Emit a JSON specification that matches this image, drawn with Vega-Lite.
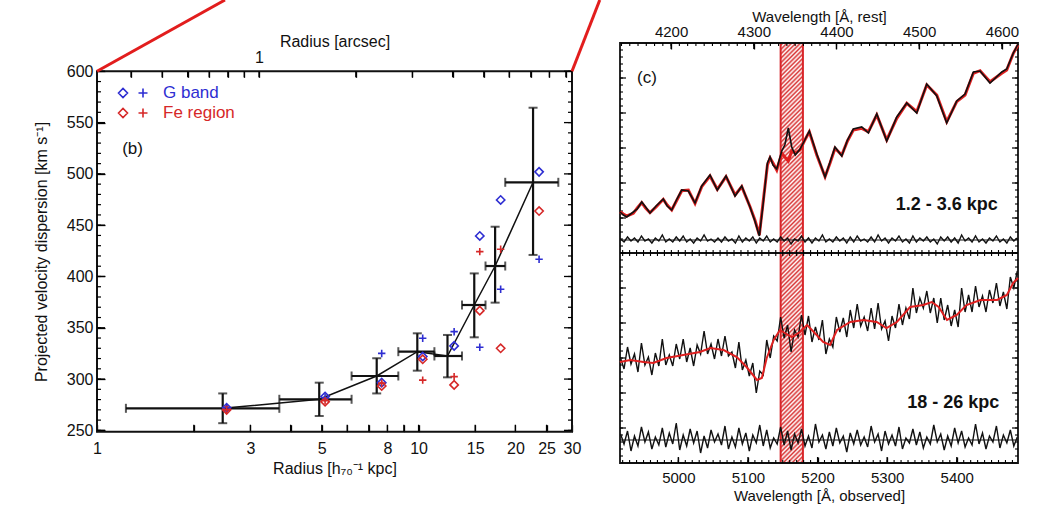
{
"$schema": "https://vega.github.io/schema/vega-lite/v6.json",
"width": 1050, "height": 507,
"autosize": {"type": "none"},
"padding": 0,
"background": "white",
"config": {
  "font": "Liberation Sans",
  "view": {"stroke": null},
  "axis": {"labelFont": "Liberation Sans", "titleFont": "Liberation Sans", "labelFontSize": 15, "titleFontSize": 16, "titleFontWeight": "normal", "domain": false, "grid": false, "ticks": true, "tickOpacity": 1, "tickColor": "#000", "labelColor": "#111", "titleColor": "#111", "tickWidth": 1.3, "labelOverlap": false, "labelFlush": false},
  "legend": {"labelFont": "Liberation Sans"}
},
"datasets": {
  "bins": [
    {"r":2.46,"v":271.5,"rlo":1.23,"rhi":3.69,"vlo":257,"vhi":286},
    {"r":4.91,"v":280.3,"rlo":3.69,"rhi":6.19,"vlo":264,"vhi":296.5},
    {"r":7.41,"v":303,"rlo":6.19,"rhi":8.65,"vlo":286,"vhi":320.3},
    {"r":9.91,"v":326.7,"rlo":8.65,"rhi":11.2,"vlo":308.2,"vhi":344.6},
    {"r":12.3,"v":322.5,"rlo":11.2,"rhi":13.65,"vlo":301.7,"vhi":343},
    {"r":14.9,"v":372.2,"rlo":13.65,"rhi":16.15,"vlo":340.7,"vhi":403},
    {"r":17.3,"v":410.2,"rlo":16.15,"rhi":18.6,"vlo":374.5,"vhi":448.5},
    {"r":22.7,"v":491.8,"rlo":18.6,"rhi":27.2,"vlo":421,"vhi":564.5}
  ],
  "sym": [
    {"r":2.53,"v":272,"band":"G band","kind":"d"},
    {"r":5.12,"v":283,"band":"G band","kind":"d"},
    {"r":7.68,"v":296.5,"band":"G band","kind":"d"},
    {"r":10.3,"v":322,"band":"G band","kind":"d"},
    {"r":12.9,"v":332.3,"band":"G band","kind":"d"},
    {"r":15.5,"v":439.5,"band":"G band","kind":"d"},
    {"r":18.0,"v":474.6,"band":"G band","kind":"d"},
    {"r":23.7,"v":502,"band":"G band","kind":"d"},
    {"r":2.53,"v":270,"band":"Fe region","kind":"d"},
    {"r":5.12,"v":278,"band":"Fe region","kind":"d"},
    {"r":7.68,"v":293.3,"band":"Fe region","kind":"d"},
    {"r":10.3,"v":319.3,"band":"Fe region","kind":"d"},
    {"r":12.9,"v":294.3,"band":"Fe region","kind":"d"},
    {"r":15.5,"v":366.7,"band":"Fe region","kind":"d"},
    {"r":18.0,"v":330,"band":"Fe region","kind":"d"},
    {"r":23.7,"v":463.8,"band":"Fe region","kind":"d"},
    {"r":2.53,"v":272,"band":"G band","kind":"p"},
    {"r":5.12,"v":282,"band":"G band","kind":"p"},
    {"r":7.68,"v":325,"band":"G band","kind":"p"},
    {"r":10.3,"v":339.8,"band":"G band","kind":"p"},
    {"r":12.9,"v":346.2,"band":"G band","kind":"p"},
    {"r":15.5,"v":331,"band":"G band","kind":"p"},
    {"r":18.0,"v":387.5,"band":"G band","kind":"p"},
    {"r":23.7,"v":416.8,"band":"G band","kind":"p"},
    {"r":2.53,"v":270,"band":"Fe region","kind":"p"},
    {"r":5.12,"v":279,"band":"Fe region","kind":"p"},
    {"r":7.68,"v":296,"band":"Fe region","kind":"p"},
    {"r":10.3,"v":299,"band":"Fe region","kind":"p"},
    {"r":12.9,"v":302.4,"band":"Fe region","kind":"p"},
    {"r":15.5,"v":424.2,"band":"Fe region","kind":"p"},
    {"r":18.0,"v":426.5,"band":"Fe region","kind":"p"}
  ],
  "zoom": [
    {"r":1,"v":600,"g":"a"},{"r":2.5,"v":669.5,"g":"a"},
    {"r":30,"v":600,"g":"b"},{"r":36.6,"v":669.5,"g":"b"}
  ],
  "ly": [{"v":250},{"v":260},{"v":270},{"v":280},{"v":290},{"v":300},{"v":310},{"v":320},{"v":330},{"v":340},{"v":350},{"v":360},{"v":370},{"v":380},{"v":390},{"v":400},{"v":410},{"v":420},{"v":430},{"v":440},{"v":450},{"v":460},{"v":470},{"v":480},{"v":490},{"v":500},{"v":510},{"v":520},{"v":530},{"v":540},{"v":550},{"v":560},{"v":570},{"v":580},{"v":590},{"v":600}],
  "lx": [{"r":2},{"r":3},{"r":4},{"r":5},{"r":6},{"r":7},{"r":8},{"r":9},{"r":10},{"r":15},{"r":20},{"r":25}],
  "la": [{"a":0.4},{"a":0.5},{"a":0.6},{"a":0.7},{"a":0.8},{"a":0.9},{"a":1},{"a":2},{"a":3},{"a":4},{"a":5},{"a":6},{"a":7},{"a":8},{"a":9}],
  "ry": [{"v":7},{"v":14},{"v":21},{"v":28},{"v":35},{"v":42},{"v":49},{"v":56},{"v":63},{"v":70},{"v":77},{"v":84},{"v":91},{"v":98},{"v":105},{"v":112},{"v":119},{"v":126},{"v":133},{"v":140},{"v":147},{"v":154},{"v":161},{"v":168},{"v":175},{"v":182},{"v":189},{"v":196},{"v":203},{"v":210},{"v":217},{"v":224},{"v":231},{"v":238},{"v":245},{"v":252},{"v":259},{"v":266},{"v":273},{"v":280},{"v":287},{"v":294},{"v":301},{"v":308},{"v":315},{"v":322},{"v":329},{"v":336},{"v":343},{"v":350},{"v":357},{"v":364},{"v":371},{"v":378},{"v":385},{"v":392},{"v":399},{"v":406},{"v":413}],
  "rx": [{"w":4920},{"w":4930},{"w":4940},{"w":4950},{"w":4960},{"w":4970},{"w":4980},{"w":4990},{"w":5000},{"w":5010},{"w":5020},{"w":5030},{"w":5040},{"w":5050},{"w":5060},{"w":5070},{"w":5080},{"w":5090},{"w":5100},{"w":5110},{"w":5120},{"w":5130},{"w":5140},{"w":5150},{"w":5160},{"w":5170},{"w":5180},{"w":5190},{"w":5200},{"w":5210},{"w":5220},{"w":5230},{"w":5240},{"w":5250},{"w":5260},{"w":5270},{"w":5280},{"w":5290},{"w":5300},{"w":5310},{"w":5320},{"w":5330},{"w":5340},{"w":5350},{"w":5360},{"w":5370},{"w":5380},{"w":5390},{"w":5400},{"w":5410},{"w":5420},{"w":5430},{"w":5440},{"w":5450},{"w":5460},{"w":5470},{"w":5480}],
  "rt": [{"w":4140},{"w":4150},{"w":4160},{"w":4170},{"w":4180},{"w":4190},{"w":4200},{"w":4210},{"w":4220},{"w":4230},{"w":4240},{"w":4250},{"w":4260},{"w":4270},{"w":4280},{"w":4290},{"w":4300},{"w":4310},{"w":4320},{"w":4330},{"w":4340},{"w":4350},{"w":4360},{"w":4370},{"w":4380},{"w":4390},{"w":4400},{"w":4410},{"w":4420},{"w":4430},{"w":4440},{"w":4450},{"w":4460},{"w":4470},{"w":4480},{"w":4490},{"w":4500},{"w":4510},{"w":4520},{"w":4530},{"w":4540},{"w":4550},{"w":4560},{"w":4570},{"w":4580},{"w":4590},{"w":4600},{"w":4610}],
  "top": [
    {"w":4916.2,"m":251.3,"b":251},{"w":4921,"m":249,"b":248},{"w":4925.9,"m":247,"b":246},{"w":4935.3,"m":249.7,"b":251},
    {"w":4941,"m":255,"b":254},{"w":4947.4,"m":260.3,"b":261},{"w":4953,"m":255,"b":256},{"w":4959.3,"m":250.3,"b":250},
    {"w":4968,"m":256,"b":257},{"w":4978.4,"m":263.7,"b":264},{"w":4984,"m":258,"b":257},{"w":4990.5,"m":253,"b":253},
    {"w":4998,"m":263,"b":264},{"w":5004.9,"m":272.3,"b":273},{"w":5014.4,"m":273,"b":272},{"w":5024,"m":259.7,"b":260},
    {"w":5033.6,"m":276.3,"b":277},{"w":5045.5,"m":287,"b":288},{"w":5056,"m":273.7,"b":273},{"w":5068.5,"m":286.3,"b":287},
    {"w":5081.5,"m":268,"b":267},{"w":5091.1,"m":276.3,"b":277},{"w":5103,"m":256.3,"b":256},{"w":5110,"m":243,"b":242},
    {"w":5116.4,"m":228,"b":227},{"w":5122,"m":262,"b":260},{"w":5128,"m":298,"b":300},{"w":5131.8,"m":305,"b":306},
    {"w":5136,"m":300,"b":298},{"w":5141.4,"m":293,"b":294},{"w":5148.6,"m":309.7,"b":312},{"w":5153,"m":306,"b":318},
    {"w":5158,"m":302,"b":335},{"w":5162.9,"m":312,"b":316},{"w":5168,"m":310,"b":308},{"w":5174.9,"m":313,"b":314},
    {"w":5181,"m":322,"b":322},{"w":5188.2,"m":331.3,"b":332},{"w":5198.9,"m":308,"b":309},{"w":5210.8,"m":286.3,"b":286},
    {"w":5218,"m":300,"b":301},{"w":5225.1,"m":314.7,"b":316},{"w":5234.8,"m":308,"b":307},{"w":5243,"m":322,"b":323},
    {"w":5251.4,"m":333,"b":334},{"w":5263.5,"m":334.7,"b":336},{"w":5273,"m":331.3,"b":330},{"w":5285.1,"m":348,"b":349},
    {"w":5299.4,"m":323,"b":322},{"w":5313.8,"m":344.7,"b":346},{"w":5328.2,"m":359.7,"b":360},{"w":5342.5,"m":351.3,"b":350},
    {"w":5356.9,"m":378,"b":379},{"w":5371.3,"m":368,"b":367},{"w":5385.6,"m":341.3,"b":340},{"w":5400,"m":361.3,"b":362},
    {"w":5411.9,"m":368,"b":369},{"w":5423.9,"m":389.7,"b":391},{"w":5433.5,"m":392.3,"b":392},{"w":5447.8,"m":381.3,"b":380},
    {"w":5464.7,"m":389.7,"b":391},{"w":5471.8,"m":393,"b":394},{"w":5481.3,"m":409.7,"b":410},{"w":5488,"m":418,"b":419}
  ],
  "botm": [
    {"w":4916,"m":101},{"w":4931,"m":103},{"w":4950,"m":101},{"w":4964,"m":100},{"w":4983,"m":105},{"w":5007,"m":108},
    {"w":5031,"m":111},{"w":5046,"m":115},{"w":5065,"m":113},{"w":5084,"m":106},{"w":5098,"m":96},{"w":5113,"m":83},
    {"w":5120,"m":85},{"w":5127,"m":105},{"w":5137,"m":123},{"w":5146,"m":133},{"w":5153,"m":130},{"w":5163,"m":126},
    {"w":5175,"m":131},{"w":5185,"m":138},{"w":5196,"m":130},{"w":5208,"m":121},{"w":5218,"m":118},{"w":5228,"m":133},
    {"w":5247,"m":141},{"w":5266,"m":143},{"w":5285,"m":141},{"w":5299,"m":135},{"w":5314,"m":141},{"w":5333,"m":156},
    {"w":5352,"m":158},{"w":5364,"m":161},{"w":5374,"m":156},{"w":5386,"m":143},{"w":5400,"m":148},{"w":5414,"m":158},
    {"w":5434,"m":163},{"w":5458,"m":163},{"w":5472,"m":168},{"w":5481,"m":180},{"w":5488,"m":185}
  ],
  "bot": [
    {"w":4917,"b":105,"br":29,"tr":224},{"w":4922,"b":94,"br":19,"tr":221},{"w":4927,"b":116,"br":32,"tr":226},{"w":4932,"b":99,"br":12,"tr":222},{"w":4937,"b":109,"br":27,"tr":225},
    {"w":4942,"b":91,"br":17,"tr":221},{"w":4947,"b":120,"br":36,"tr":227},{"w":4952,"b":98,"br":21,"tr":222},{"w":4957,"b":106,"br":31,"tr":224},{"w":4962,"b":88,"br":14,"tr":220},
    {"w":4967,"b":110,"br":26,"tr":225},{"w":4972,"b":97,"br":18,"tr":222},{"w":4977,"b":124,"br":35,"tr":228},{"w":4982,"b":98,"br":16,"tr":221},{"w":4987,"b":108,"br":30,"tr":224},
    {"w":4992,"b":97,"br":19,"tr":221},{"w":4997,"b":119,"br":40,"tr":226},{"w":5002,"b":104,"br":13,"tr":222},{"w":5007,"b":124,"br":28,"tr":227},{"w":5012,"b":101,"br":17,"tr":221},
    {"w":5017,"b":115,"br":34,"tr":224},{"w":5022,"b":97,"br":20,"tr":220},{"w":5027,"b":118,"br":32,"tr":225},{"w":5032,"b":109,"br":10,"tr":222},{"w":5037,"b":132,"br":27,"tr":228},
    {"w":5042,"b":109,"br":15,"tr":222},{"w":5047,"b":119,"br":33,"tr":224},{"w":5052,"b":104,"br":21,"tr":221},{"w":5057,"b":124,"br":29,"tr":225},{"w":5062,"b":107,"br":18,"tr":221},
    {"w":5067,"b":127,"br":37,"tr":226},{"w":5072,"b":107,"br":14,"tr":222},{"w":5077,"b":111,"br":26,"tr":224},{"w":5082,"b":95,"br":16,"tr":220},{"w":5087,"b":121,"br":35,"tr":227},
    {"w":5092,"b":93,"br":19,"tr":221},{"w":5097,"b":103,"br":30,"tr":225},{"w":5102,"b":87,"br":12,"tr":222},{"w":5107,"b":100,"br":28,"tr":226},{"w":5112,"b":70,"br":20,"tr":220},
    {"w":5117,"b":92,"br":38,"tr":225},{"w":5122,"b":88,"br":17,"tr":222},{"w":5127,"b":123,"br":33,"tr":227},{"w":5132,"b":105,"br":15,"tr":221},{"w":5137,"b":127,"br":25,"tr":224},
    {"w":5142,"b":122,"br":19,"tr":221},{"w":5147,"b":146,"br":36,"tr":226},{"w":5152,"b":125,"br":18,"tr":222},{"w":5157,"b":138,"br":32,"tr":225},{"w":5162,"b":111,"br":13,"tr":219},
    {"w":5167,"b":133,"br":29,"tr":224},{"w":5172,"b":126,"br":20,"tr":222},{"w":5177,"b":148,"br":34,"tr":227},{"w":5182,"b":128,"br":17,"tr":221},{"w":5187,"b":147,"br":27,"tr":225},
    {"w":5192,"b":121,"br":15,"tr":220},{"w":5197,"b":136,"br":39,"tr":225},{"w":5202,"b":123,"br":21,"tr":222},{"w":5207,"b":143,"br":28,"tr":228},{"w":5212,"b":109,"br":14,"tr":221},
    {"w":5217,"b":124,"br":31,"tr":224},{"w":5222,"b":116,"br":17,"tr":221},{"w":5227,"b":146,"br":35,"tr":226},{"w":5232,"b":131,"br":20,"tr":222},{"w":5237,"b":145,"br":27,"tr":225},
    {"w":5242,"b":126,"br":11,"tr":220},{"w":5247,"b":153,"br":30,"tr":226},{"w":5252,"b":135,"br":19,"tr":221},{"w":5257,"b":159,"br":33,"tr":227},{"w":5262,"b":137,"br":18,"tr":222},
    {"w":5267,"b":146,"br":26,"tr":224},{"w":5272,"b":132,"br":16,"tr":221},{"w":5277,"b":155,"br":37,"tr":226},{"w":5282,"b":134,"br":21,"tr":221},{"w":5287,"b":160,"br":29,"tr":228},
    {"w":5292,"b":134,"br":12,"tr":222},{"w":5297,"b":142,"br":32,"tr":225},{"w":5302,"b":122,"br":19,"tr":220},{"w":5307,"b":147,"br":28,"tr":225},{"w":5312,"b":135,"br":17,"tr":222},
    {"w":5317,"b":159,"br":36,"tr":227},{"w":5322,"b":138,"br":14,"tr":221},{"w":5327,"b":155,"br":25,"tr":224},{"w":5332,"b":144,"br":20,"tr":220},{"w":5337,"b":175,"br":34,"tr":227},
    {"w":5342,"b":150,"br":18,"tr":221},{"w":5347,"b":165,"br":31,"tr":225},{"w":5352,"b":155,"br":15,"tr":222},{"w":5357,"b":172,"br":26,"tr":226},{"w":5362,"b":150,"br":19,"tr":221},
    {"w":5367,"b":165,"br":38,"tr":224},{"w":5372,"b":140,"br":21,"tr":219},{"w":5377,"b":165,"br":29,"tr":226},{"w":5382,"b":143,"br":13,"tr":222},{"w":5387,"b":158,"br":27,"tr":226},
    {"w":5392,"b":137,"br":17,"tr":221},{"w":5397,"b":153,"br":35,"tr":225},{"w":5402,"b":136,"br":20,"tr":220},{"w":5407,"b":175,"br":32,"tr":228},{"w":5412,"b":151,"br":16,"tr":222},
    {"w":5417,"b":168,"br":25,"tr":225},{"w":5422,"b":151,"br":18,"tr":221},{"w":5427,"b":177,"br":39,"tr":227},{"w":5432,"b":156,"br":19,"tr":221},{"w":5437,"b":167,"br":30,"tr":224},
    {"w":5442,"b":151,"br":14,"tr":220},{"w":5447,"b":173,"br":27,"tr":225},{"w":5452,"b":160,"br":21,"tr":222},{"w":5457,"b":180,"br":37,"tr":227},{"w":5462,"b":157,"br":15,"tr":221},
    {"w":5467,"b":171,"br":28,"tr":224},{"w":5472,"b":154,"br":20,"tr":220},{"w":5477,"b":186,"br":33,"tr":226},{"w":5482,"b":175,"br":17,"tr":222},{"w":5487,"b":192,"br":26,"tr":225}
  ]
},
"resolve": {"scale": {"x": "independent", "y": "independent", "color": "independent", "stroke": "independent"}, "axis": {"x": "independent", "y": "independent"}},
"layer": [
  {
   "data": {"name": "bins"},
   "mark": {"type": "rule", "color": "#111", "strokeWidth": 2.2},
   "encoding": {
     "x": {"field": "r", "type": "quantitative", "scale": {"type": "log", "domain": [1, 30], "range": [97, 572], "nice": false},
           "axis": {"orient": "bottom", "offset": -82.3, "values": [1,2,3,4,5,6,7,8,9,10,15,20,25,30], "labelExpr": "indexof([1,3,5,8,10,15,20,25,30], datum.value) >= 0 ? datum.label : ''", "tickSize": 7, "labelPadding": 9, "labelFontSize": 16, "title": "Radius [h₇₀⁻¹ kpc]", "titlePadding": 4, "titleFontSize": 16}},
     "y": {"field": "vlo", "type": "quantitative", "scale": {"domain": [248.7, 600], "range": [431.7, 71.3], "nice": false, "zero": false},
           "axis": {"orient": "left", "offset": -105, "values": [250,300,350,400,450,500,550,600], "tickSize": 8, "labelPadding": 4, "labelFontSize": 16, "title": "Projected velocity dispersion [km s⁻¹]", "titlePadding": 17, "titleFontSize": 16}},
     "y2": {"field": "vhi"}
   }
  },
  {
   "data": {"name": "bins"},
   "mark": {"type": "rule", "color": "#111", "strokeWidth": 2.2},
   "encoding": {
     "x": {"field": "rlo", "type": "quantitative", "scale": {"type": "log", "domain": [1, 30], "range": [97, 572], "nice": false}, "axis": null},
     "x2": {"field": "rhi"},
     "y": {"field": "v", "type": "quantitative", "scale": {"domain": [248.7, 600], "range": [431.7, 71.3], "nice": false, "zero": false}, "axis": null}
   }
  },
  {
   "data": {"name": "bins"},
   "mark": {"type": "tick", "orient": "horizontal", "color": "#111", "size": 9, "thickness": 2},
   "encoding": {
     "x": {"field": "r", "type": "quantitative", "scale": {"type": "log", "domain": [1, 30], "range": [97, 572], "nice": false}, "axis": null},
     "y": {"field": "vlo", "type": "quantitative", "scale": {"domain": [248.7, 600], "range": [431.7, 71.3], "nice": false, "zero": false}, "axis": null}
   }
  },
  {
   "data": {"name": "bins"},
   "mark": {"type": "tick", "orient": "horizontal", "color": "#111", "size": 9, "thickness": 2},
   "encoding": {
     "x": {"field": "r", "type": "quantitative", "scale": {"type": "log", "domain": [1, 30], "range": [97, 572], "nice": false}, "axis": null},
     "y": {"field": "vhi", "type": "quantitative", "scale": {"domain": [248.7, 600], "range": [431.7, 71.3], "nice": false, "zero": false}, "axis": null}
   }
  },
  {
   "data": {"name": "bins"},
   "mark": {"type": "tick", "orient": "vertical", "color": "#111", "size": 9, "thickness": 2},
   "encoding": {
     "x": {"field": "rlo", "type": "quantitative", "scale": {"type": "log", "domain": [1, 30], "range": [97, 572], "nice": false}, "axis": null},
     "y": {"field": "v", "type": "quantitative", "scale": {"domain": [248.7, 600], "range": [431.7, 71.3], "nice": false, "zero": false}, "axis": null}
   }
  },
  {
   "data": {"name": "bins"},
   "mark": {"type": "tick", "orient": "vertical", "color": "#111", "size": 9, "thickness": 2},
   "encoding": {
     "x": {"field": "rhi", "type": "quantitative", "scale": {"type": "log", "domain": [1, 30], "range": [97, 572], "nice": false}, "axis": null},
     "y": {"field": "v", "type": "quantitative", "scale": {"domain": [248.7, 600], "range": [431.7, 71.3], "nice": false, "zero": false}, "axis": null}
   }
  },
  {
   "data": {"name": "bins"},
   "mark": {"type": "line", "color": "#111", "strokeWidth": 1.5},
   "encoding": {
     "x": {"field": "r", "type": "quantitative", "scale": {"type": "log", "domain": [1, 30], "range": [97, 572], "nice": false}, "axis": null},
     "y": {"field": "v", "type": "quantitative", "scale": {"domain": [248.7, 600], "range": [431.7, 71.3], "nice": false, "zero": false}, "axis": null}
   }
  },
  {
   "data": {"name": "sym"},
   "transform": [{"filter": "datum.kind == 'd'"}],
   "mark": {"type": "point", "shape": "diamond", "filled": false, "size": 70, "strokeWidth": 1.6, "opacity": 1},
   "encoding": {
     "x": {"field": "r", "type": "quantitative", "scale": {"type": "log", "domain": [1, 30], "range": [97, 572], "nice": false}, "axis": null},
     "y": {"field": "v", "type": "quantitative", "scale": {"domain": [248.7, 600], "range": [431.7, 71.3], "nice": false, "zero": false}, "axis": null},
     "color": {"field": "band", "type": "nominal", "scale": {"domain": ["G band", "Fe region"], "range": ["#2e2ed2", "#d62828"]},
       "legend": {"orient": "none", "legendX": 122, "legendY": 82, "title": null, "padding": 0,
         "symbolType": "M -1.45 0 L -1 -0.45 L -0.55 0 L -1 0.45 Z M 0.55 0 L 1.45 0 M 1 -0.45 L 1 0.45",
         "symbolSize": 400, "symbolStrokeWidth": 1.6, "symbolFillColor": "transparent",
         "labelFontSize": 17, "labelOffset": 19, "rowPadding": 1,
         "encoding": {
           "labels": {"fill": {"value": {"expr": "datum.label == 'G band' ? '#2e2ed2' : '#d62828'"}}}
         }}}
   }
  },
  {
   "data": {"name": "sym"},
   "transform": [{"filter": "datum.kind == 'p'"}],
   "mark": {"type": "point", "shape": "M -1 0 L 1 0 M 0 -1 L 0 1", "filled": false, "size": 55, "strokeWidth": 1.6, "opacity": 1},
   "encoding": {
     "x": {"field": "r", "type": "quantitative", "scale": {"type": "log", "domain": [1, 30], "range": [97, 572], "nice": false}, "axis": null},
     "y": {"field": "v", "type": "quantitative", "scale": {"domain": [248.7, 600], "range": [431.7, 71.3], "nice": false, "zero": false}, "axis": null},
     "stroke": {"field": "band", "type": "nominal", "scale": {"domain": ["G band", "Fe region"], "range": ["#2e2ed2", "#d62828"]}, "legend": null}
   }
  },
  {
   "data": {"values": [{}]},
   "mark": {"type": "text", "text": "(b)", "fontSize": 17, "font": "Liberation Sans", "color": "#111"},
   "encoding": {
     "x": {"datum": 1.29, "type": "quantitative", "scale": {"type": "log", "domain": [1, 30], "range": [97, 572], "nice": false}, "axis": null},
     "y": {"datum": 524, "type": "quantitative", "scale": {"domain": [248.7, 600], "range": [431.7, 71.3], "nice": false, "zero": false}, "axis": null}
   }
  },
  {
   "data": {"values": [{}]},
   "mark": {"type": "rect", "filled": false, "color": "#111", "strokeWidth": 2},
   "encoding": {
     "x": {"datum": 1, "type": "quantitative", "scale": {"type": "log", "domain": [1, 30], "range": [97, 572], "nice": false}, "axis": null},
     "x2": {"datum": 30},
     "y": {"datum": 248.7, "type": "quantitative", "scale": {"domain": [248.7, 600], "range": [431.7, 71.3], "nice": false, "zero": false}, "axis": null},
     "y2": {"datum": 600}
   }
  },
  {
   "data": {"name": "ly"},
   "transform": [{"filter": "datum.v % 50 == 0"}],
   "mark": {"type": "rule", "color": "#000", "strokeWidth": 1.3},
   "encoding": {
     "x": {"datum": 1, "type": "quantitative", "scale": {"type": "log", "domain": [1, 30], "range": [97, 572], "nice": false}, "axis": null},
     "x2": {"datum": 1.059},
     "y": {"field": "v", "type": "quantitative", "scale": {"domain": [248.7, 600], "range": [431.7, 71.3], "nice": false, "zero": false}, "axis": null}
   }
  },
  {
   "data": {"name": "ly"},
   "transform": [{"filter": "datum.v % 50 == 0"}],
   "mark": {"type": "rule", "color": "#000", "strokeWidth": 1.3},
   "encoding": {
     "x": {"datum": 28.33, "type": "quantitative", "scale": {"type": "log", "domain": [1, 30], "range": [97, 572], "nice": false}, "axis": null},
     "x2": {"datum": 30},
     "y": {"field": "v", "type": "quantitative", "scale": {"domain": [248.7, 600], "range": [431.7, 71.3], "nice": false, "zero": false}, "axis": null}
   }
  },
  {
   "data": {"name": "ly"},
   "mark": {"type": "rule", "color": "#000", "strokeWidth": 1.2},
   "encoding": {
     "x": {"datum": 1, "type": "quantitative", "scale": {"type": "log", "domain": [1, 30], "range": [97, 572], "nice": false}, "axis": null},
     "x2": {"datum": 1.029},
     "y": {"field": "v", "type": "quantitative", "scale": {"domain": [248.7, 600], "range": [431.7, 71.3], "nice": false, "zero": false}, "axis": null}
   }
  },
  {
   "data": {"name": "ly"},
   "mark": {"type": "rule", "color": "#000", "strokeWidth": 1.2},
   "encoding": {
     "x": {"datum": 29.15, "type": "quantitative", "scale": {"type": "log", "domain": [1, 30], "range": [97, 572], "nice": false}, "axis": null},
     "x2": {"datum": 30},
     "y": {"field": "v", "type": "quantitative", "scale": {"domain": [248.7, 600], "range": [431.7, 71.3], "nice": false, "zero": false}, "axis": null}
   }
  },
  {
   "data": {"name": "lx"},
   "mark": {"type": "rule", "color": "#000", "strokeWidth": 1.3},
   "encoding": {
     "x": {"field": "r", "type": "quantitative", "scale": {"type": "log", "domain": [1, 30], "range": [97, 572], "nice": false}, "axis": null},
     "y": {"datum": 248.7, "type": "quantitative", "scale": {"domain": [248.7, 600], "range": [431.7, 71.3], "nice": false, "zero": false}, "axis": null},
     "y2": {"datum": 255.5}
   }
  },
  {
   "data": {"name": "la"},
   "mark": {"type": "rule", "color": "#000", "strokeWidth": 1.3},
   "encoding": {
     "x": {"field": "a", "type": "quantitative", "scale": {"type": "log", "domain": [0.3135, 9.404], "range": [97, 572], "nice": false}, "axis": null},
     "y": {"datum": 600, "type": "quantitative", "scale": {"domain": [248.7, 600], "range": [431.7, 71.3], "nice": false, "zero": false}, "axis": null},
     "y2": {"datum": 594.2}
   }
  },
  {
   "data": {"name": "zoom"},
   "mark": {"type": "line", "color": "#e21d1d", "strokeWidth": 3},
   "encoding": {
     "x": {"field": "r", "type": "quantitative", "scale": {"type": "log", "domain": [1, 30], "range": [97, 572], "nice": false}, "axis": null},
     "y": {"field": "v", "type": "quantitative", "scale": {"domain": [248.7, 600], "range": [431.7, 71.3], "nice": false, "zero": false}, "axis": null},
     "detail": {"field": "g", "type": "nominal"}
   }
  },
  {
   "data": {"values": [{"a": 1}]},
   "mark": {"type": "point", "opacity": 0},
   "encoding": {
     "x": {"field": "a", "type": "quantitative", "scale": {"type": "log", "domain": [0.3135, 9.404], "range": [97, 572], "nice": false},
           "axis": {"orient": "top", "offset": -77.3, "values": [0.4,0.5,0.6,0.7,0.8,0.9,1,2,3,4,5,6,7,8,9], "labelExpr": "datum.value == 1 ? '1' : ''", "tickSize": 6, "labelPadding": 6, "labelFontSize": 16, "title": "Radius [arcsec]", "titlePadding": 0, "titleFontSize": 16}}
   }
  },
  {
   "data": {"values": [{"w1": 5147, "w2": 5179}]},
   "mark": {"type": "rect", "stroke": "#d9262a", "strokeWidth": 2,
     "fill": {"gradient": "linear", "x1": 0, "y1": 0, "x2": 0.0557, "y2": 1.05, "stops": [
{"offset":0,"color":"#fff"},{"offset":0.005,"color":"#d83434"},{"offset":0.01,"color":"#fff"},{"offset":0.015,"color":"#d83434"},{"offset":0.02,"color":"#fff"},{"offset":0.025,"color":"#d83434"},{"offset":0.03,"color":"#fff"},{"offset":0.035,"color":"#d83434"},{"offset":0.04,"color":"#fff"},{"offset":0.045,"color":"#d83434"},
{"offset":0.05,"color":"#fff"},{"offset":0.055,"color":"#d83434"},{"offset":0.06,"color":"#fff"},{"offset":0.065,"color":"#d83434"},{"offset":0.07,"color":"#fff"},{"offset":0.075,"color":"#d83434"},{"offset":0.08,"color":"#fff"},{"offset":0.085,"color":"#d83434"},{"offset":0.09,"color":"#fff"},{"offset":0.095,"color":"#d83434"},
{"offset":0.1,"color":"#fff"},{"offset":0.105,"color":"#d83434"},{"offset":0.11,"color":"#fff"},{"offset":0.115,"color":"#d83434"},{"offset":0.12,"color":"#fff"},{"offset":0.125,"color":"#d83434"},{"offset":0.13,"color":"#fff"},{"offset":0.135,"color":"#d83434"},{"offset":0.14,"color":"#fff"},{"offset":0.145,"color":"#d83434"},
{"offset":0.15,"color":"#fff"},{"offset":0.155,"color":"#d83434"},{"offset":0.16,"color":"#fff"},{"offset":0.165,"color":"#d83434"},{"offset":0.17,"color":"#fff"},{"offset":0.175,"color":"#d83434"},{"offset":0.18,"color":"#fff"},{"offset":0.185,"color":"#d83434"},{"offset":0.19,"color":"#fff"},{"offset":0.195,"color":"#d83434"},
{"offset":0.2,"color":"#fff"},{"offset":0.205,"color":"#d83434"},{"offset":0.21,"color":"#fff"},{"offset":0.215,"color":"#d83434"},{"offset":0.22,"color":"#fff"},{"offset":0.225,"color":"#d83434"},{"offset":0.23,"color":"#fff"},{"offset":0.235,"color":"#d83434"},{"offset":0.24,"color":"#fff"},{"offset":0.245,"color":"#d83434"},
{"offset":0.25,"color":"#fff"},{"offset":0.255,"color":"#d83434"},{"offset":0.26,"color":"#fff"},{"offset":0.265,"color":"#d83434"},{"offset":0.27,"color":"#fff"},{"offset":0.275,"color":"#d83434"},{"offset":0.28,"color":"#fff"},{"offset":0.285,"color":"#d83434"},{"offset":0.29,"color":"#fff"},{"offset":0.295,"color":"#d83434"},
{"offset":0.3,"color":"#fff"},{"offset":0.305,"color":"#d83434"},{"offset":0.31,"color":"#fff"},{"offset":0.315,"color":"#d83434"},{"offset":0.32,"color":"#fff"},{"offset":0.325,"color":"#d83434"},{"offset":0.33,"color":"#fff"},{"offset":0.335,"color":"#d83434"},{"offset":0.34,"color":"#fff"},{"offset":0.345,"color":"#d83434"},
{"offset":0.35,"color":"#fff"},{"offset":0.355,"color":"#d83434"},{"offset":0.36,"color":"#fff"},{"offset":0.365,"color":"#d83434"},{"offset":0.37,"color":"#fff"},{"offset":0.375,"color":"#d83434"},{"offset":0.38,"color":"#fff"},{"offset":0.385,"color":"#d83434"},{"offset":0.39,"color":"#fff"},{"offset":0.395,"color":"#d83434"},
{"offset":0.4,"color":"#fff"},{"offset":0.405,"color":"#d83434"},{"offset":0.41,"color":"#fff"},{"offset":0.415,"color":"#d83434"},{"offset":0.42,"color":"#fff"},{"offset":0.425,"color":"#d83434"},{"offset":0.43,"color":"#fff"},{"offset":0.435,"color":"#d83434"},{"offset":0.44,"color":"#fff"},{"offset":0.445,"color":"#d83434"},
{"offset":0.45,"color":"#fff"},{"offset":0.455,"color":"#d83434"},{"offset":0.46,"color":"#fff"},{"offset":0.465,"color":"#d83434"},{"offset":0.47,"color":"#fff"},{"offset":0.475,"color":"#d83434"},{"offset":0.48,"color":"#fff"},{"offset":0.485,"color":"#d83434"},{"offset":0.49,"color":"#fff"},{"offset":0.495,"color":"#d83434"},
{"offset":0.5,"color":"#fff"},{"offset":0.505,"color":"#d83434"},{"offset":0.51,"color":"#fff"},{"offset":0.515,"color":"#d83434"},{"offset":0.52,"color":"#fff"},{"offset":0.525,"color":"#d83434"},{"offset":0.53,"color":"#fff"},{"offset":0.535,"color":"#d83434"},{"offset":0.54,"color":"#fff"},{"offset":0.545,"color":"#d83434"},
{"offset":0.55,"color":"#fff"},{"offset":0.555,"color":"#d83434"},{"offset":0.56,"color":"#fff"},{"offset":0.565,"color":"#d83434"},{"offset":0.57,"color":"#fff"},{"offset":0.575,"color":"#d83434"},{"offset":0.58,"color":"#fff"},{"offset":0.585,"color":"#d83434"},{"offset":0.59,"color":"#fff"},{"offset":0.595,"color":"#d83434"},
{"offset":0.6,"color":"#fff"},{"offset":0.605,"color":"#d83434"},{"offset":0.61,"color":"#fff"},{"offset":0.615,"color":"#d83434"},{"offset":0.62,"color":"#fff"},{"offset":0.625,"color":"#d83434"},{"offset":0.63,"color":"#fff"},{"offset":0.635,"color":"#d83434"},{"offset":0.64,"color":"#fff"},{"offset":0.645,"color":"#d83434"},
{"offset":0.65,"color":"#fff"},{"offset":0.655,"color":"#d83434"},{"offset":0.66,"color":"#fff"},{"offset":0.665,"color":"#d83434"},{"offset":0.67,"color":"#fff"},{"offset":0.675,"color":"#d83434"},{"offset":0.68,"color":"#fff"},{"offset":0.685,"color":"#d83434"},{"offset":0.69,"color":"#fff"},{"offset":0.695,"color":"#d83434"},
{"offset":0.7,"color":"#fff"},{"offset":0.705,"color":"#d83434"},{"offset":0.71,"color":"#fff"},{"offset":0.715,"color":"#d83434"},{"offset":0.72,"color":"#fff"},{"offset":0.725,"color":"#d83434"},{"offset":0.73,"color":"#fff"},{"offset":0.735,"color":"#d83434"},{"offset":0.74,"color":"#fff"},{"offset":0.745,"color":"#d83434"},
{"offset":0.75,"color":"#fff"},{"offset":0.755,"color":"#d83434"},{"offset":0.76,"color":"#fff"},{"offset":0.765,"color":"#d83434"},{"offset":0.77,"color":"#fff"},{"offset":0.775,"color":"#d83434"},{"offset":0.78,"color":"#fff"},{"offset":0.785,"color":"#d83434"},{"offset":0.79,"color":"#fff"},{"offset":0.795,"color":"#d83434"},
{"offset":0.8,"color":"#fff"},{"offset":0.805,"color":"#d83434"},{"offset":0.81,"color":"#fff"},{"offset":0.815,"color":"#d83434"},{"offset":0.82,"color":"#fff"},{"offset":0.825,"color":"#d83434"},{"offset":0.83,"color":"#fff"},{"offset":0.835,"color":"#d83434"},{"offset":0.84,"color":"#fff"},{"offset":0.845,"color":"#d83434"},
{"offset":0.85,"color":"#fff"},{"offset":0.855,"color":"#d83434"},{"offset":0.86,"color":"#fff"},{"offset":0.865,"color":"#d83434"},{"offset":0.87,"color":"#fff"},{"offset":0.875,"color":"#d83434"},{"offset":0.88,"color":"#fff"},{"offset":0.885,"color":"#d83434"},{"offset":0.89,"color":"#fff"},{"offset":0.895,"color":"#d83434"},
{"offset":0.9,"color":"#fff"},{"offset":0.905,"color":"#d83434"},{"offset":0.91,"color":"#fff"},{"offset":0.915,"color":"#d83434"},{"offset":0.92,"color":"#fff"},{"offset":0.925,"color":"#d83434"},{"offset":0.93,"color":"#fff"},{"offset":0.935,"color":"#d83434"},{"offset":0.94,"color":"#fff"},{"offset":0.945,"color":"#d83434"},
{"offset":0.95,"color":"#fff"},{"offset":0.955,"color":"#d83434"},{"offset":0.96,"color":"#fff"},{"offset":0.965,"color":"#d83434"},{"offset":0.97,"color":"#fff"},{"offset":0.975,"color":"#d83434"},{"offset":0.98,"color":"#fff"},{"offset":0.985,"color":"#d83434"},{"offset":0.99,"color":"#fff"},{"offset":0.995,"color":"#d83434"},
{"offset":1,"color":"#fff"}
     ]}},
   "encoding": {
     "x": {"field": "w1", "type": "quantitative", "scale": {"domain": [4916.2, 5488], "range": [620, 1018], "nice": false, "zero": false}, "axis": null},
     "x2": {"field": "w2"},
     "y": {"datum": 0, "type": "quantitative", "scale": {"domain": [0, 420], "range": [463, 43], "nice": false, "zero": false}, "axis": null},
     "y2": {"datum": 420}
   }
  },
  {
   "data": {"values": [{"z": 23}, {"z": 223}]},
   "mark": {"type": "rule", "color": "#111", "strokeWidth": 1},
   "encoding": {
     "x": {"datum": 4916.2, "type": "quantitative", "scale": {"domain": [4916.2, 5488], "range": [620, 1018], "nice": false, "zero": false}, "axis": null},
     "x2": {"datum": 5488},
     "y": {"field": "z", "type": "quantitative", "scale": {"domain": [0, 420], "range": [463, 43], "nice": false, "zero": false}, "axis": null}
   }
  },
  {
   "data": {"values": [{"z": 210}]},
   "mark": {"type": "rule", "color": "#111", "strokeWidth": 1.8},
   "encoding": {
     "x": {"datum": 4916.2, "type": "quantitative", "scale": {"domain": [4916.2, 5488], "range": [620, 1018], "nice": false, "zero": false}, "axis": null},
     "x2": {"datum": 5488},
     "y": {"field": "z", "type": "quantitative", "scale": {"domain": [0, 420], "range": [463, 43], "nice": false, "zero": false}, "axis": null}
   }
  },
  {
   "data": {"values": [{}]},
   "mark": {"type": "rect", "filled": false, "color": "#111", "strokeWidth": 1.8},
   "encoding": {
     "x": {"datum": 4916.2, "type": "quantitative", "scale": {"domain": [4916.2, 5488], "range": [620, 1018], "nice": false, "zero": false}, "axis": null},
     "x2": {"datum": 5488},
     "y": {"datum": 0, "type": "quantitative", "scale": {"domain": [0, 420], "range": [463, 43], "nice": false, "zero": false}, "axis": null},
     "y2": {"datum": 420}
   }
  },
  {
   "data": {"name": "ry"},
   "mark": {"type": "rule", "color": "#000", "strokeWidth": 1.1},
   "encoding": {
     "x": {"datum": 4916.2, "type": "quantitative", "scale": {"domain": [4916.2, 5488], "range": [620, 1018], "nice": false, "zero": false}, "axis": null},
     "x2": {"datum": 4920.5},
     "y": {"field": "v", "type": "quantitative", "scale": {"domain": [0, 420], "range": [463, 43], "nice": false, "zero": false}, "axis": null}
   }
  },
  {
   "data": {"name": "ry"},
   "mark": {"type": "rule", "color": "#000", "strokeWidth": 1.1},
   "encoding": {
     "x": {"datum": 5483.7, "type": "quantitative", "scale": {"domain": [4916.2, 5488], "range": [620, 1018], "nice": false, "zero": false}, "axis": null},
     "x2": {"datum": 5488},
     "y": {"field": "v", "type": "quantitative", "scale": {"domain": [0, 420], "range": [463, 43], "nice": false, "zero": false}, "axis": null}
   }
  },
  {
   "data": {"name": "ry"},
   "transform": [{"filter": "datum.v % 35 == 0"}],
   "mark": {"type": "rule", "color": "#000", "strokeWidth": 1.2},
   "encoding": {
     "x": {"datum": 4916.2, "type": "quantitative", "scale": {"domain": [4916.2, 5488], "range": [620, 1018], "nice": false, "zero": false}, "axis": null},
     "x2": {"datum": 4924.8},
     "y": {"field": "v", "type": "quantitative", "scale": {"domain": [0, 420], "range": [463, 43], "nice": false, "zero": false}, "axis": null}
   }
  },
  {
   "data": {"name": "ry"},
   "transform": [{"filter": "datum.v % 35 == 0"}],
   "mark": {"type": "rule", "color": "#000", "strokeWidth": 1.2},
   "encoding": {
     "x": {"datum": 5479.4, "type": "quantitative", "scale": {"domain": [4916.2, 5488], "range": [620, 1018], "nice": false, "zero": false}, "axis": null},
     "x2": {"datum": 5488},
     "y": {"field": "v", "type": "quantitative", "scale": {"domain": [0, 420], "range": [463, 43], "nice": false, "zero": false}, "axis": null}
   }
  },
  {
   "data": {"name": "rx"},
   "mark": {"type": "rule", "color": "#000", "strokeWidth": 1.1},
   "encoding": {
     "x": {"field": "w", "type": "quantitative", "scale": {"domain": [4916.2, 5488], "range": [620, 1018], "nice": false, "zero": false}, "axis": null},
     "y": {"datum": 0, "type": "quantitative", "scale": {"domain": [0, 420], "range": [463, 43], "nice": false, "zero": false}, "axis": null},
     "y2": {"datum": 3}
   }
  },
  {
   "data": {"name": "rx"},
   "transform": [{"filter": "datum.w % 100 == 0"}],
   "mark": {"type": "rule", "color": "#000", "strokeWidth": 1.2},
   "encoding": {
     "x": {"field": "w", "type": "quantitative", "scale": {"domain": [4916.2, 5488], "range": [620, 1018], "nice": false, "zero": false}, "axis": null},
     "y": {"datum": 0, "type": "quantitative", "scale": {"domain": [0, 420], "range": [463, 43], "nice": false, "zero": false}, "axis": null},
     "y2": {"datum": 6}
   }
  },
  {
   "data": {"name": "rx"},
   "mark": {"type": "rule", "color": "#000", "strokeWidth": 1.1},
   "encoding": {
     "x": {"field": "w", "type": "quantitative", "scale": {"domain": [4916.2, 5488], "range": [620, 1018], "nice": false, "zero": false}, "axis": null},
     "y": {"datum": 207, "type": "quantitative", "scale": {"domain": [0, 420], "range": [463, 43], "nice": false, "zero": false}, "axis": null},
     "y2": {"datum": 213}
   }
  },
  {
   "data": {"name": "rt"},
   "mark": {"type": "rule", "color": "#000", "strokeWidth": 1.1},
   "encoding": {
     "x": {"field": "w", "type": "quantitative", "scale": {"domain": [4138.2, 4619.5], "range": [620, 1018], "nice": false, "zero": false}, "axis": null},
     "y": {"datum": 420, "type": "quantitative", "scale": {"domain": [0, 420], "range": [463, 43], "nice": false, "zero": false}, "axis": null},
     "y2": {"datum": 417}
   }
  },
  {
   "data": {"name": "rt"},
   "transform": [{"filter": "datum.w % 100 == 0"}],
   "mark": {"type": "rule", "color": "#000", "strokeWidth": 1.2},
   "encoding": {
     "x": {"field": "w", "type": "quantitative", "scale": {"domain": [4138.2, 4619.5], "range": [620, 1018], "nice": false, "zero": false}, "axis": null},
     "y": {"datum": 420, "type": "quantitative", "scale": {"domain": [0, 420], "range": [463, 43], "nice": false, "zero": false}, "axis": null},
     "y2": {"datum": 414}
   }
  },
  {
   "data": {"name": "top"},
   "mark": {"type": "line", "color": "#e02020", "strokeWidth": 3},
   "encoding": {
     "x": {"field": "w", "type": "quantitative", "scale": {"domain": [4916.2, 5488], "range": [620, 1018], "nice": false, "zero": false}, "axis": null},
     "y": {"field": "m", "type": "quantitative", "scale": {"domain": [0, 420], "range": [463, 43], "nice": false, "zero": false}, "axis": null}
   }
  },
  {
   "data": {"name": "top"},
   "mark": {"type": "line", "color": "#111", "strokeWidth": 1.6},
   "encoding": {
     "x": {"field": "w", "type": "quantitative", "scale": {"domain": [4916.2, 5488], "range": [620, 1018], "nice": false, "zero": false}, "axis": null},
     "y": {"field": "b", "type": "quantitative", "scale": {"domain": [0, 420], "range": [463, 43], "nice": false, "zero": false}, "axis": null}
   }
  },
  {
   "data": {"name": "bot"},
   "mark": {"type": "line", "color": "#111", "strokeWidth": 1.4},
   "encoding": {
     "x": {"field": "w", "type": "quantitative", "scale": {"domain": [4916.2, 5488], "range": [620, 1018], "nice": false, "zero": false}, "axis": null},
     "y": {"field": "tr", "type": "quantitative", "scale": {"domain": [0, 420], "range": [463, 43], "nice": false, "zero": false}, "axis": null}
   }
  },
  {
   "data": {"name": "bot"},
   "mark": {"type": "line", "color": "#111", "strokeWidth": 1.4},
   "encoding": {
     "x": {"field": "w", "type": "quantitative", "scale": {"domain": [4916.2, 5488], "range": [620, 1018], "nice": false, "zero": false},
           "axis": {"orient": "bottom", "offset": -50, "values": [5000,5100,5200,5300,5400], "format": "d", "tickSize": 6, "labelPadding": 7, "labelFontSize": 15, "title": "Wavelength [Å, observed]", "titlePadding": 3, "titleFontSize": 15}},
     "y": {"field": "b", "type": "quantitative", "scale": {"domain": [0, 420], "range": [463, 43], "nice": false, "zero": false}, "axis": null}
   }
  },
  {
   "data": {"name": "botm"},
   "mark": {"type": "line", "color": "#e02020", "strokeWidth": 2},
   "encoding": {
     "x": {"field": "w", "type": "quantitative", "scale": {"domain": [4916.2, 5488], "range": [620, 1018], "nice": false, "zero": false}, "axis": null},
     "y": {"field": "m", "type": "quantitative", "scale": {"domain": [0, 420], "range": [463, 43], "nice": false, "zero": false}, "axis": null}
   }
  },
  {
   "data": {"name": "bot"},
   "mark": {"type": "line", "color": "#111", "strokeWidth": 1.4},
   "encoding": {
     "x": {"field": "w", "type": "quantitative", "scale": {"domain": [4916.2, 5488], "range": [620, 1018], "nice": false, "zero": false}, "axis": null},
     "y": {"field": "br", "type": "quantitative", "scale": {"domain": [0, 420], "range": [463, 43], "nice": false, "zero": false}, "axis": null}
   }
  },
  {
   "data": {"values": [{}]},
   "mark": {"type": "text", "text": "(c)", "fontSize": 17, "font": "Liberation Sans", "color": "#111"},
   "encoding": {
     "x": {"datum": 4955, "type": "quantitative", "scale": {"domain": [4916.2, 5488], "range": [620, 1018], "nice": false, "zero": false}, "axis": null},
     "y": {"datum": 385, "type": "quantitative", "scale": {"domain": [0, 420], "range": [463, 43], "nice": false, "zero": false}, "axis": null}
   }
  },
  {
   "data": {"values": [{}]},
   "mark": {"type": "text", "text": "1.2 - 3.6 kpc", "fontSize": 18, "fontWeight": "bold", "align": "right", "font": "Liberation Sans", "color": "#111"},
   "encoding": {
     "x": {"datum": 5459, "type": "quantitative", "scale": {"domain": [4916.2, 5488], "range": [620, 1018], "nice": false, "zero": false}, "axis": null},
     "y": {"datum": 258, "type": "quantitative", "scale": {"domain": [0, 420], "range": [463, 43], "nice": false, "zero": false}, "axis": null}
   }
  },
  {
   "data": {"values": [{}]},
   "mark": {"type": "text", "text": "18 - 26 kpc", "fontSize": 18, "fontWeight": "bold", "align": "right", "font": "Liberation Sans", "color": "#111"},
   "encoding": {
     "x": {"datum": 5461, "type": "quantitative", "scale": {"domain": [4916.2, 5488], "range": [620, 1018], "nice": false, "zero": false}, "axis": null},
     "y": {"datum": 60, "type": "quantitative", "scale": {"domain": [0, 420], "range": [463, 43], "nice": false, "zero": false}, "axis": null}
   }
  },
  {
   "data": {"values": [{"a": 4400}]},
   "mark": {"type": "point", "opacity": 0},
   "encoding": {
     "x": {"field": "a", "type": "quantitative", "scale": {"domain": [4138.2, 4619.5], "range": [620, 1018], "nice": false, "zero": false},
           "axis": {"orient": "top", "offset": -49, "values": [4200,4300,4400,4500,4600], "format": "d", "tickSize": 6, "labelPadding": 4, "labelFontSize": 15, "title": "Wavelength [Å, rest]", "titlePadding": 0, "titleFontSize": 15}}
   }
  }
]
}
